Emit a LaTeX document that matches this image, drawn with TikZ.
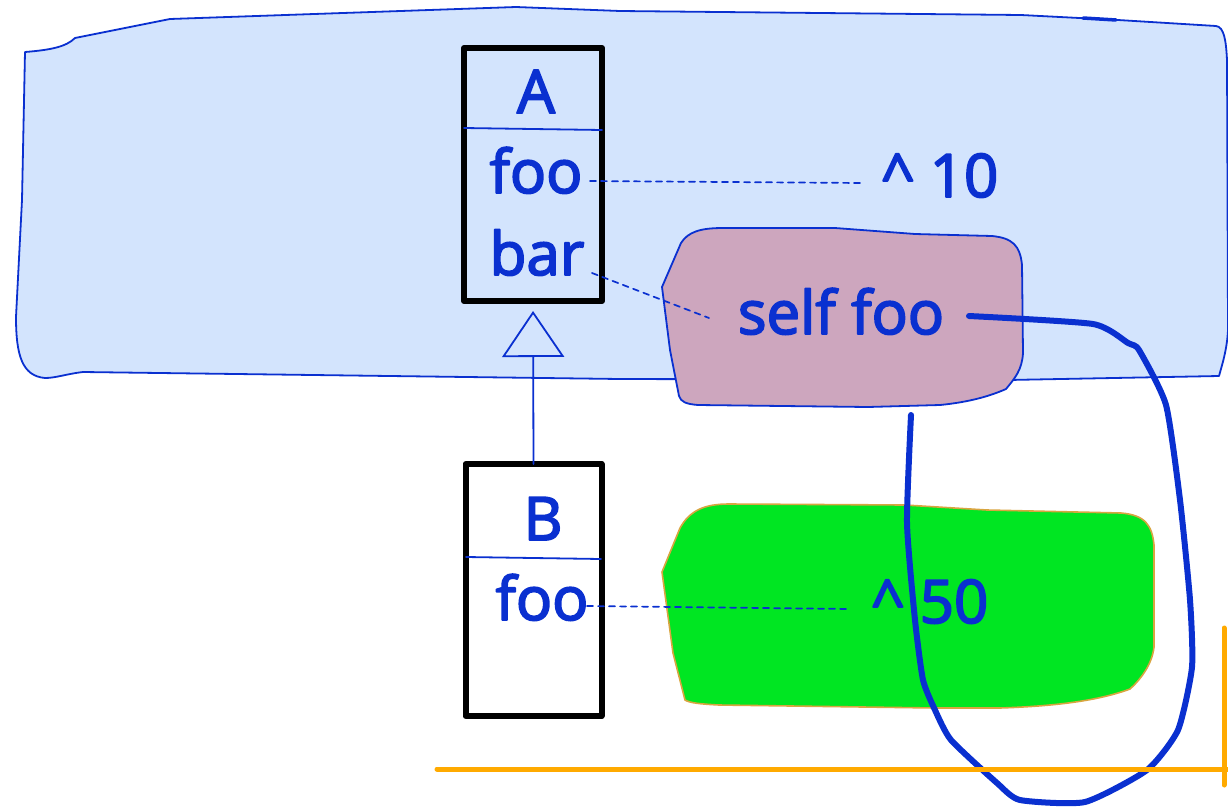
\documentclass[tikz,border=0pt]{standalone}
\usepackage{fontspec}
\setmainfont{Open Sans}
\newfontfamily\handfont[FakeBold=3]{Open Sans}
\usetikzlibrary{arrows.meta}
\definecolor{ink}{HTML}{0A30D0}
\definecolor{sky}{HTML}{D3E4FD}
\definecolor{mauve}{HTML}{CDA6BE}
\definecolor{leaf}{HTML}{00E622}
\definecolor{amber}{HTML}{FFAA00}
\definecolor{rim}{HTML}{D8A540}
\tikzset{
  region/.style={draw=ink, line width=1.8pt},
  classbox/.style={draw=black, line width=6pt, inner sep=0pt, outer sep=0pt,
                   minimum width=138pt, minimum height=253pt},
  sepline/.style={draw=ink, line width=1.8pt},
  lbl/.style={text=ink, font=\handfont\fontsize{60}{72}\selectfont, inner sep=0pt, anchor=base},
  link/.style={draw=ink, line width=1.7pt, dash pattern=on 6pt off 5pt},
  inherit/.style={draw=ink, line width=1.8pt, shorten >=10pt,
                  -{Triangle[open, length=46pt, width=62pt]}},
  wire/.style={draw=ink, line width=6pt},
  ruler/.style={draw=amber, line width=5pt}
}
\begin{document}
\begin{tikzpicture}[x=1pt, y=-1pt, line join=round, line cap=round]
\useasboundingbox (0,0) rectangle (1228,806);

% light blue class scope
\path[region, fill=sky] (25,52) .. controls (50,50) and (66,47) .. (75,38)
  -- (170,19) -- (516,7) -- (620,11) -- (1021,15) -- (1118,20) -- (1216,26)
  .. controls (1224,27) and (1226,40) .. (1227,60) -- (1228,330)
  .. controls (1227,350) and (1222,365) .. (1219,376)
  -- (1008,380) -- (620,379) -- (83,372)
  .. controls (66,374) and (56,378) .. (45,378)
  .. controls (22,376) and (16,355) .. (16,317) -- (22,200) -- cycle;
\draw[ink, line width=3.5pt] (1083,18) -- (1116,20);

% class A
\node[classbox] (boxA) at (533,174.5) {};
\draw[sepline] (464,128) -- (602,130);

% self-send block
\path[draw=ink, line width=1.8pt, fill=mauve] (662,287) -- (681,243)
  .. controls (688,232) and (700,228) .. (723,228) -- (835,228) -- (915,234) -- (992,236)
  .. controls (1012,238) and (1020,245) .. (1022,265) -- (1023,353)
  .. controls (1022,370) and (1015,378) .. (1006,389)
  .. controls (990,396) and (970,402) .. (940,405) -- (868,407) -- (698,405)
  .. controls (686,404) and (681,402) .. (679,396) -- (670,350) -- cycle;

\node[lbl] (nameA) at (536,113) {A};
\node[lbl] (fooA) at (536,193) {foo};
\node[lbl] (barA) at (537,275) {bar};
\node[lbl] (retA) at (940,197) {\^{} 10};
\node[lbl] (send) at (841,334) {self foo};

\coordinate (fooAout) at (590,181);
\coordinate (retAin) at (862,183);
\coordinate (barAout) at (592,273);
\coordinate (sendin) at (709,318);
\draw[link] (fooAout) -- (retAin);
\draw[link] (barAout) -- (sendin);

% class B
\path[draw=rim, line width=1.6pt, fill=leaf] (662,572) -- (680,528)
  .. controls (690,510) and (705,504) .. (729,504) -- (905,505) -- (987,510) -- (1121,513)
  .. controls (1145,515) and (1152,525) .. (1154,545) -- (1154,647)
  .. controls (1152,665) and (1140,680) .. (1130,689)
  .. controls (1100,700) and (1060,706) .. (1000,708) -- (935,708) -- (719,705)
  .. controls (700,704) and (690,703) .. (685,700) -- (673,653) -- cycle;

\node[classbox, fill=white, minimum width=136pt, minimum height=252pt] (boxB) at (533.5,590) {};
\draw[sepline] (466,557) -- (601,559);
\draw[inherit] (boxB.north) -- (boxA.south);

\node[lbl] (nameB) at (543,540) {B};
\node[lbl] (fooB) at (542,620) {foo};
\node[lbl] (retB) at (930,623) {\^{} 50};

\coordinate (fooBout) at (587,606);
\coordinate (retBin) at (850,609);
\draw[link] (fooBout) -- (retBin);

% lookup path
\draw[wire] plot[smooth, tension=0.35] coordinates {
  (969,316) (1093,324) (1128,343) (1139,350) (1166,405) (1180,500) (1190,600)
  (1192,667) (1178,730) (1147,770) (1085,802) (1020,800) (997,783) (951,740)
  (935,710) (923,680) (915,620) (907,523) (911,415)};

% baseline rulers
\draw[ruler] (437,769) -- (1228,769);
\draw[ruler] (1224,628) -- (1224,785);
\end{tikzpicture}
\end{document}
